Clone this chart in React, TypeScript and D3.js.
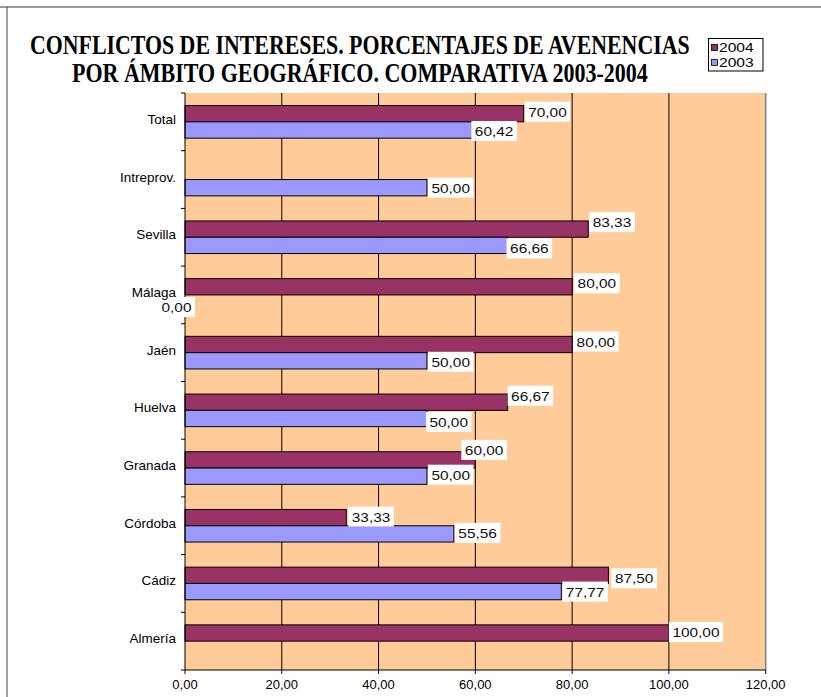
import React, { useLayoutEffect, useRef, useState } from "react";
import * as d3 from "d3";

const categories = ["Total", "Intreprov.", "Sevilla", "Málaga", "Jaén", "Huelva", "Granada", "Córdoba", "Cádiz", "Almería"];
const seriesNames = ["2004", "2003"];
const values2004: (number | null)[] = [70.0, null, 83.33, 80.0, 80.0, 66.67, 60.0, 33.33, 87.5, 100.0];
const values2003: (number | null)[] = [60.42, 50.0, 66.66, 0.0, 50.0, 50.0, 50.0, 55.56, 77.77, null];
const xTicks = [0, 20, 40, 60, 80, 100, 120];
const titleLines = ["CONFLICTOS DE INTERESES. PORCENTAJES DE AVENENCIAS", "POR ÁMBITO GEOGRÁFICO. COMPARATIVA 2003-2004"];

// manual label nudges (as in the original chart where labels were dragged)
const labelNudges: Record<string, [number, number]> = {
  "Total|2004": [0, -2],
  "Total|2003": [-7, 1],
  "Intreprov.|2003": [0, 0],
  "Sevilla|2004": [0, -7],
  "Sevilla|2003": [-2, 3],
  "Málaga|2004": [1, -3.5],
  "Málaga|2003": [-28, 4],
  "Jaén|2004": [0, -3],
  "Jaén|2003": [0, 1],
  "Huelva|2004": [-1, -6.5],
  "Huelva|2003": [-2, 3.5],
  "Granada|2004": [-15, -10],
  "Granada|2003": [0, -1.5],
  "Córdoba|2004": [1, -1],
  "Córdoba|2003": [0, -1],
  "Cádiz|2004": [2, 3],
  "Cádiz|2003": [0, 0],
  "Almería|2004": [-1, -1],
};

const colors: Record<string, string> = { "2004": "#993366", "2003": "#9999FF" };
const FONT = "'Liberation Sans', Arial, Helvetica, sans-serif";

const fmt = (v: number) => d3.format(".2f")(v).replace(".", ",");
const charW = (c: string) => (c === "," ? 0.278 : 0.556);
const textW = (s: string, size: number) => s.split("").reduce((a, c) => a + charW(c), 0) * size;

function FitText({ x, y, width, children }: { x: number; y: number; width: number; children: string }) {
  const ref = useRef<SVGTextElement>(null);
  const [sx, setSx] = useState(1);
  useLayoutEffect(() => {
    if (ref.current) {
      const w = ref.current.getComputedTextLength();
      if (w > 0) setSx(width / w);
    }
  }, [width, children]);
  return (
    <text ref={ref} transform={`translate(${x},${y}) scale(${sx},1)`}>{children}</text>
  );
}

export default function App() {
  const W = 821, H = 697;
  const left = 185, right = 765.7, top = 93, bottom = 670;
  const x = d3.scaleLinear().domain([0, 120]).range([left, right]);
  const y = d3.scaleBand<string>().domain(categories).range([top, bottom]).padding(0);
  const ys = d3.scaleBand<string>().domain(seriesNames).range([0, y.bandwidth()]).paddingInner(0).paddingOuter(0.77);

  const data = categories.map((c, i) => ({ c, vals: { "2004": values2004[i], "2003": values2003[i] } as Record<string, number | null> }));
  const LS = 13.5, STR = 1.14;

  return (
    <svg width={W} height={H} style={{ position: "absolute", left: 0, top: 0, background: "#fff" }}>
      {/* chart border */}
      <line x1={0} x2={W} y1={7} y2={7} stroke="#777" strokeWidth={1.5} />
      <line x1={7} x2={7} y1={7} y2={H} stroke="#444" strokeWidth={1} />

      {/* title */}
      <g fontFamily="'Liberation Serif', 'Times New Roman', serif" fontWeight="bold" fontSize={28} fill="#000">
        <FitText x={30} y={54} width={660}>{titleLines[0]}</FitText>
        <FitText x={72} y={82} width={576}>{titleLines[1]}</FitText>
      </g>

      {/* legend */}
      <g fontFamily={FONT} fontSize={12}>
        <rect x={708.5} y={38.5} width={54.5} height={32.5} fill="#fff" stroke="#000" strokeWidth={1} />
        {seriesNames.map((s, i) => (
          <g key={s}>
            <rect x={711.5} y={44.5 + i * 15} width={6} height={6} fill={colors[s]} stroke="#000" strokeWidth={0.8} />
            <FitText x={719} y={52 + i * 15} width={textW(s, 12) * 1.3}>{s}</FitText>
          </g>
        ))}
      </g>

      {/* plot area */}
      <rect x={left} y={top} width={right - left} height={bottom - top} fill="#FFCC99" />
      <line x1={right} x2={right} y1={top} y2={bottom} stroke="#808080" strokeWidth={1.5} />
      {xTicks.filter((t) => t > 0 && t < 120).map((t) => (
        <line key={t} x1={x(t)} x2={x(t)} y1={top} y2={bottom} stroke="#000" strokeWidth={1} />
      ))}

      {/* bars */}
      {data.map((d) =>
        seriesNames.map((s) => {
          const v = d.vals[s];
          if (v == null) return null;
          const by = (y(d.c) as number) + (ys(s) as number);
          return (
            <rect key={d.c + s} x={x(0)} y={by} width={x(v) - x(0)} height={ys.bandwidth()} fill={colors[s]} stroke="#000" strokeWidth={1} />
          );
        })
      )}

      {/* axes */}
      <line x1={left} x2={left} y1={top} y2={bottom} stroke="#000" strokeWidth={1} />
      <line x1={left} x2={right} y1={bottom} y2={bottom} stroke="#000" strokeWidth={1} />
      {categories.map((c) => (
        <line key={c} x1={left - 4} x2={left} y1={y(c) as number} y2={y(c) as number} stroke="#000" />
      ))}
      <line x1={left - 4} x2={left} y1={bottom} y2={bottom} stroke="#000" />
      {xTicks.map((t) => (
        <line key={t} x1={x(t)} x2={x(t)} y1={bottom} y2={bottom + 4} stroke="#000" />
      ))}
      <g fontFamily={FONT} fontSize={13} textAnchor="middle">
        {xTicks.map((t) => (
          <text key={t} x={x(t)} y={689}>{fmt(t)}</text>
        ))}
      </g>

      {/* value labels */}
      {data.map((d) =>
        seriesNames.map((s) => {
          const v = d.vals[s];
          if (v == null) return null;
          const label = fmt(v);
          const tw = textW(label, LS) * STR;
          const [dx, dy] = labelNudges[d.c + "|" + s] || [0, 0];
          const cy = (y(d.c) as number) + (ys(s) as number) + ys.bandwidth() / 2 + dy;
          const bx = x(v) + 1 + dx;
          return (
            <g key={"l" + d.c + s}>
              <rect x={bx} y={cy - 10} width={tw + 7} height={20} fill="#fff" />
              <text x={bx + 3.5} y={cy + 5} fontFamily={FONT} fontSize={LS} textLength={tw} lengthAdjust="spacingAndGlyphs" fill="#111">{label}</text>
            </g>
          );
        })
      )}

      {/* category labels drawn on top */}
      <g fontFamily={FONT} fontSize={13.5} textAnchor="end">
        {categories.map((c) => (
          <text key={c} x={176} y={(y(c) as number) + y.bandwidth() / 2 + 2} >{c}</text>
        ))}
      </g>
    </svg>
  );
}
